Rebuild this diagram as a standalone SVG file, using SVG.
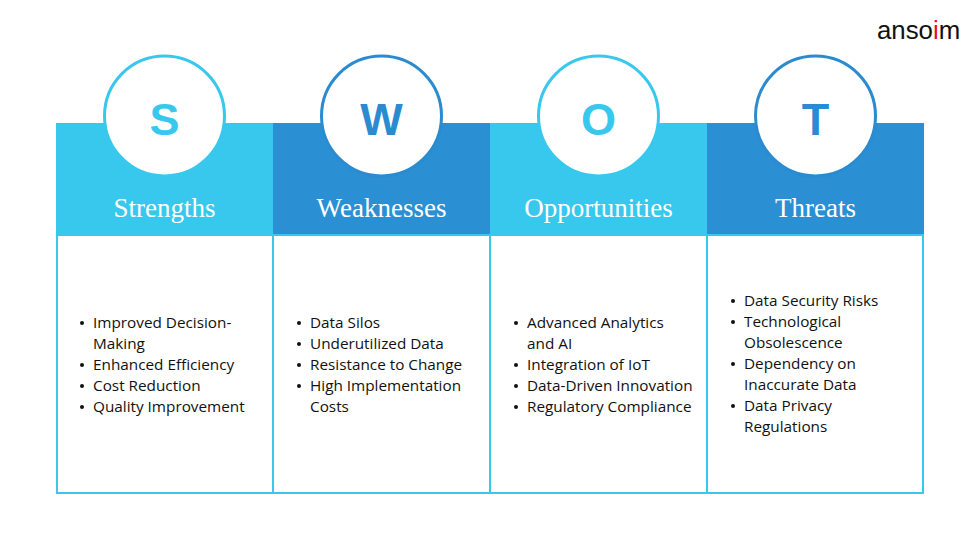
<svg xmlns="http://www.w3.org/2000/svg" width="980" height="551" viewBox="0 0 980 551">
<style>
  .hl { fill: #38c8ee; }
  .hd { fill: #2b8fd4; }
  .body { fill: #ffffff; stroke: #38c8ee; stroke-width: 2; }
  .circ { fill: #ffffff; stroke-width: 3; }
  .cl { stroke: #38c8ee; }
  .cd { stroke: #2a8bd0; }
  .letter { font-family: "Liberation Sans", Arial, sans-serif; font-weight: bold; font-size: 45px; text-anchor: middle; }
  .ll { fill: #38c8ee; }
  .ld { fill: #2a8bd0; }
  .title { font-family: "Liberation Serif", "Times New Roman", serif; font-size: 27px; fill: #ffffff; text-anchor: middle; }
  .item { font-family: "Open Sans", "Noto Sans", sans-serif; font-size: 15.3px; fill: #111111; }
  .logo { font-family: "Liberation Sans", Arial, sans-serif; font-size: 25.8px; fill: #111111; }
</style>
<rect width="980" height="551" fill="#ffffff"/>
<text class="logo" x="877" y="39">anso<tspan fill="#e3131b">i</tspan>m</text>

<g id="strengths">
  <rect class="hl" x="56" y="123" width="217" height="112"/>
  <rect class="body" x="57" y="235" width="216" height="258"/>
  <circle class="circ cl" cx="164.5" cy="116" r="60"/>
  <text class="letter ll" x="164.5" y="135">S</text>
  <text class="title" x="164.5" y="217">Strengths</text>
  <g class="item">
    <circle cx="82" cy="323" r="2"/><text x="93" y="328">Improved Decision-</text>
    <text x="93" y="349">Making</text>
    <circle cx="82" cy="365" r="2"/><text x="93" y="370">Enhanced Efficiency</text>
    <circle cx="82" cy="386" r="2"/><text x="93" y="391">Cost Reduction</text>
    <circle cx="82" cy="407" r="2"/><text x="93" y="412">Quality Improvement</text>
  </g>
</g>

<g id="weaknesses">
  <rect class="hd" x="273" y="123" width="217" height="112"/>
  <rect class="body" x="273" y="235" width="217" height="258"/>
  <circle class="circ cd" cx="381.5" cy="116" r="60"/>
  <text class="letter ld" x="381.5" y="135">W</text>
  <text class="title" x="381.5" y="217">Weaknesses</text>
  <g class="item">
    <circle cx="299" cy="323" r="2"/><text x="310" y="328">Data Silos</text>
    <circle cx="299" cy="344" r="2"/><text x="310" y="349">Underutilized Data</text>
    <circle cx="299" cy="365" r="2"/><text x="310" y="370">Resistance to Change</text>
    <circle cx="299" cy="386" r="2"/><text x="310" y="391">High Implementation</text>
    <text x="310" y="412">Costs</text>
  </g>
</g>

<g id="opportunities">
  <rect class="hl" x="490" y="123" width="217" height="112"/>
  <rect class="body" x="490" y="235" width="217" height="258"/>
  <circle class="circ cl" cx="598.5" cy="116" r="60"/>
  <text class="letter ll" x="598.5" y="135">O</text>
  <text class="title" x="598.5" y="217">Opportunities</text>
  <g class="item">
    <circle cx="516" cy="323" r="2"/><text x="527" y="328">Advanced Analytics</text>
    <text x="527" y="349">and AI</text>
    <circle cx="516" cy="365" r="2"/><text x="527" y="370">Integration of IoT</text>
    <circle cx="516" cy="386" r="2"/><text x="527" y="391">Data-Driven Innovation</text>
    <circle cx="516" cy="407" r="2"/><text x="527" y="412">Regulatory Compliance</text>
  </g>
</g>

<g id="threats">
  <rect class="hd" x="707" y="123" width="217" height="112"/>
  <rect class="body" x="707" y="235" width="216" height="258"/>
  <circle class="circ cd" cx="815.5" cy="116" r="60"/>
  <text class="letter ld" x="815.5" y="135">T</text>
  <text class="title" x="815.5" y="217">Threats</text>
  <g class="item">
    <circle cx="733" cy="301" r="2"/><text x="744" y="306">Data Security Risks</text>
    <circle cx="733" cy="322" r="2"/><text x="744" y="327">Technological</text>
    <text x="744" y="348">Obsolescence</text>
    <circle cx="733" cy="364" r="2"/><text x="744" y="369">Dependency on</text>
    <text x="744" y="390">Inaccurate Data</text>
    <circle cx="733" cy="406" r="2"/><text x="744" y="411">Data Privacy</text>
    <text x="744" y="432">Regulations</text>
  </g>
</g>

<g id="connectors"></g>
</svg>
